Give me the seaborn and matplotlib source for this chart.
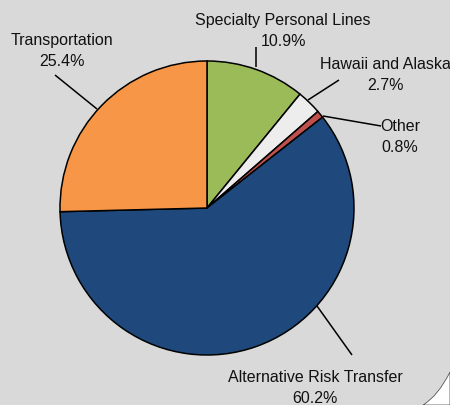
import matplotlib
matplotlib.use("Agg")
import matplotlib.pyplot as plt
import seaborn as sns
from matplotlib.patches import PathPatch
from matplotlib.path import Path

# ---- data ----
categories = ["Specialty Personal Lines", "Hawaii and Alaska", "Other",
              "Alternative Risk Transfer", "Transportation"]
shares = [10.9, 2.7, 0.8, 60.2, 25.4]
pct_labels = ["10.9%", "2.7%", "0.8%", "60.2%", "25.4%"]
colors = ["#9BBB59", "#EDEDED", "#C0504D", "#1F497D", "#F79646"]

# ---- layout (pixel coordinates, y measured from top) ----
H = 406
label_pos = [(283, 31), (385, 75), (400, 137), (315, 388), (62, 51)]
leaders = [((256, 48), (256, 68)), ((339, 81), (308, 101)), ((381, 127), (323, 117)),
           ((352, 356), (317, 307)), ((55, 76), (97, 110))]

sns.set_theme(style="white")
plt.rcParams['font.family'] = ['Liberation Sans', 'DejaVu Sans']

fig = plt.figure(figsize=(4.5, 4.06), dpi=100)
fig.patch.set_facecolor("#D9D9D9")
ax = fig.add_axes([0, 0, 1, 1])
ax.set_facecolor("#D9D9D9")

ax.pie(shares, colors=colors, startangle=90, counterclock=False,
       center=(207, H - 209), radius=147,
       wedgeprops=dict(edgecolor="black", linewidth=1.1))
ax.set_xlim(0, 450)
ax.set_ylim(0, H)
ax.set_aspect("equal")
ax.axis("off")

for cat, pct, (x, y) in zip(categories, pct_labels, label_pos):
    ax.text(x, H - y, f"{cat}\n{pct}", ha="center", va="center",
            fontsize=11.5, color="#111111", linespacing=1.52)

for (p0, p1) in leaders:
    ax.plot([p0[0], p1[0]], [H - p0[1], H - p1[1]], color="black", lw=1.1,
            solid_capstyle="butt")

# folded corner at bottom right
verts = [(450, H - 373), (438, 9), (423, 0), (450, 0), (450, H - 373)]
codes = [Path.MOVETO, Path.CURVE3, Path.CURVE3, Path.LINETO, Path.CLOSEPOLY]
ax.add_patch(PathPatch(Path(verts, codes), facecolor="white", edgecolor="#555555",
                       lw=0.6, clip_on=False, zorder=5))

fig.savefig("out.png", dpi=100, facecolor=fig.get_facecolor())
